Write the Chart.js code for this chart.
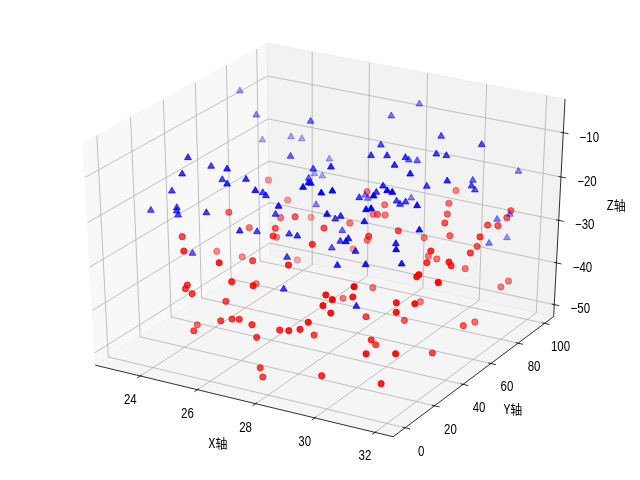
<!DOCTYPE html>
<html>
<head>
<meta charset="utf-8">
<style>
  html, body { margin: 0; background: #fff; }
  canvas { display: block; }
</style>
<script src="https://cdn.jsdelivr.net/npm/chart.js@4"></script>
</head>
<body>
<canvas id="scatter-3d" width="640" height="480"></canvas>
<script>
var xTicks = [24, 26, 28, 30, 32];
var yTicks = [0, 20, 40, 60, 80, 100];
var zTicks = [-50, -40, -30, -20, -10];

var redX = [24.20,24.83,29.57,25.58,26.46,25.28,28.11,27.85,28.48,28.19,27.42,26.25,27.66,29.66,26.69,25.21,29.12,28.05,28.01,27.01,25.29,28.05,30.66,28.72,27.29,24.57,24.82,24.22,25.05,23.87,
  26.41,24.58,26.27,26.76,25.53,27.45,25.24,25.16,25.35,25.98,24.79,25.46,26.27,26.66,26.85,27.38,27.48,28.28,28.70,29.09,27.73,27.82,31.02,29.61,30.11,28.03,30.19,29.77,30.07,29.80,
  31.32,31.97,30.01,31.50,30.44,29.36,28.68,31.99,31.86,30.47,30.29,31.14,31.87,31.87,29.73,31.65,29.89,30.27,30.55,31.78,31.94,31.72,31.85,29.43,30.51,31.97,31.61,32.00,31.25,29.76,
  30.09,31.10,31.95,31.82,30.88,31.82,31.68,31.94,32.00,31.87];
var redY = [73.0,73.9,96.3,54.9,47.8,81.1,76.0,73.3,63.5,74.8,65.8,38.8,43.7,53.9,29.1,59.1,44.7,65.3,29.2,76.4,71.4,13.0,4.4,56.0,80.2,40.2,48.5,16.9,3.1,44.5,
  0.2,47.9,23.6,1.3,39.3,1.9,1.2,1.4,2.0,11.5,14.5,0.4,2.8,2.8,3.8,2.0,3.0,2.7,0.6,0.3,0.3,0.2,54.2,6.9,1.3,49.3,13.0,1.9,1.1,29.7,
  19.1,18.1,63.1,15.4,43.0,0.4,17.2,52.1,63.3,19.9,26.6,3.0,7.8,33.1,1.8,2.9,84.5,75.4,67.8,88.8,82.4,73.3,78.0,77.0,72.5,62.5,68.6,55.3,43.5,73.4,
  72.5,44.1,41.4,45.8,76.4,23.6,25.1,34.5,84.2,81.6];
var redZ = [-25,-29,-25,-28,-25,-34,-26,-28,-25,-28,-29,-26,-25,-25,-25,-34,-25,-32,-25,-38,-42,-26,-25,-40,-25,-25,-30,-26,-25,-36,
  -25,-37,-30,-29,-40,-29,-32,-33,-34,-37,-45,-42,-39,-38,-38,-38,-41,-38,-37,-36,-47,-49,-35,-29,-28,-42,-30,-30,-31,-39,
  -31,-30,-43,-32,-42,-34,-42,-43,-45,-41,-44,-39,-39,-45,-46,-45,-25,-25,-25,-25,-25,-25,-26,-32,-29,-25,-29,-27,-25,-35,
  -35,-28,-26,-28,-37,-25,-26,-29,-40,-41];

var blueX = [23.43,24.54,24.21,25.11,25.45,26.55,25.06,25.90,26.86,26.59,27.55,24.74,26.60,28.42,25.01,25.18,26.62,29.17,29.54,29.94,26.21,29.01,30.50,27.72,25.89,26.19,27.24,29.09,28.80,29.14,
  29.99,29.80,30.49,31.30,31.48,29.86,31.17,29.47,30.35,28.29,28.09,28.63,30.51,31.85,31.09,31.40,30.47,29.57,29.81,31.94,31.22,31.87,31.46,31.05,31.98,31.88,29.39,30.61,31.89,30.56,
  28.37,27.05,27.51,29.86,29.56,29.00,30.98,31.24,30.52,28.58,28.09,28.55,30.25,29.29,30.48,31.43,31.99,28.82,30.22,28.24,30.13,31.13,28.51,24.05,24.98,24.92,24.93,25.92,27.11,27.20,
  25.36,27.45,27.06,30.94,31.91,31.89,31.96,31.90,32.00,31.98];
var blueY = [69.6,59.4,69.2,6.3,14.0,3.8,3.4,12.5,9.5,2.9,2.4,2.6,55.6,73.4,73.1,77.0,42.1,51.3,37.3,39.8,75.6,21.9,33.4,35.6,71.7,71.2,41.9,6.2,13.2,1.8,
  3.6,0.4,26.2,12.4,12.0,34.6,6.3,31.2,38.2,60.6,62.8,88.4,64.5,64.1,49.1,49.4,41.2,62.2,63.0,89.6,29.0,40.4,67.2,43.9,55.0,59.7,68.1,38.9,20.0,36.2,
  1.2,50.4,15.4,2.8,17.4,24.9,5.4,3.4,13.6,37.8,12.9,9.3,8.7,22.5,2.6,15.9,4.6,26.2,14.0,8.6,4.1,2.4,1.2,1.6,1.0,1.9,2.5,2.0,0.5,9.5,
  2.8,10.7,16.0,0.4,75.9,85.7,69.5,84.0,19.5,8.6];
var blueZ = [-5,-7,-15,-5,-8,-5,-8,-10,-8,-8,-8,-12,-5,-5,-14,-15,-10,-6,-5,-5,-18,-5,-5,-10,-21,-21,-14,-5,-7,-5,
  -5,-5,-8,-5,-5,-12,-5,-13,-14,-21,-21,-5,-5,-5,-5,-5,-5,-11,-11,-16,-5,-8,-14,-11,-12,-14,-21,-14,-9,-14,
  -10,-22,-16,-10,-14,-17,-8,-7,-13,-23,-19,-18,-16,-21,-15,-17,-15,-24,-20,-23,-21,-19,-28,-17,-15,-16,-17,-15,-17,-19,
  -25,-11,-12,-28,-24,-25,-28,-30,-14,-19];

var xLim = [22.4, 32.6];
var yLim = [-8, 107];
var zLim = [-52.9, -2.5];

// camera: elevation 30, azimuth -60, distance 10
var DIST = 10;
var elev = (30 * Math.PI) / 180;
var azim = (-60 * Math.PI) / 180;
var viewDir = [Math.cos(elev) * Math.cos(azim), Math.cos(elev) * Math.sin(azim), Math.sin(elev)];
var viewRight = [-Math.sin(azim), Math.cos(azim), 0];
var viewUp = [
  viewDir[1] * viewRight[2] - viewDir[2] * viewRight[1],
  viewDir[2] * viewRight[0] - viewDir[0] * viewRight[2],
  viewDir[0] * viewRight[1] - viewDir[1] * viewRight[0],
];

function dot(a, b) {
  return a[0] * b[0] + a[1] * b[1] + a[2] * b[2];
}
function toCube(p) {
  return [
    (p[0] - xLim[0]) / (xLim[1] - xLim[0]) - 0.5,
    (p[1] - yLim[0]) / (yLim[1] - yLim[0]) - 0.5,
    (p[2] - zLim[0]) / (zLim[1] - zLim[0]) - 0.5,
  ];
}
function project(p) {
  let q = toCube(p);
  let w = DIST - dot(q, viewDir);
  return { x: dot(q, viewRight) / w, y: dot(q, viewUp) / w };
}

// polyline through 3d points
function path3d(points, color, width) {
  return {
    data: points.map(project),
    showLine: true,
    pointRadius: 0,
    borderColor: color,
    borderWidth: width,
    fill: false,
  };
}
function pane(points, color) {
  let ds = path3d(points.concat([points[0]]), color, 1);
  ds.fill = "shape";
  ds.backgroundColor = color;
  return ds;
}
// nearer points are more opaque, 0.3 at the far end
function depthColors(points, rgb) {
  let depths = points.map((p) => dot(toCube(p), viewDir));
  let lo = Math.min(...depths);
  let hi = Math.max(...depths);
  return depths.map((d) => `rgba(${rgb},${(0.3 + (0.7 * (d - lo)) / (hi - lo)).toFixed(3)})`);
}
function scatter3d(xs, ys, zs, rgb, style, radius) {
  let points = xs.map((x, i) => [x, ys[i], zs[i]]);
  let colors = depthColors(points, rgb);
  return {
    data: points.map(project),
    showLine: false,
    pointStyle: style,
    pointRadius: radius,
    pointBackgroundColor: colors,
    pointBorderColor: colors,
    pointBorderWidth: 1,
  };
}

var x0 = xLim[0], x1 = xLim[1], y0 = yLim[0], y1 = yLim[1], z0 = zLim[0], z1 = zLim[1];
var gridColor = "rgb(176,176,176)";
var tickX = (x1 - x0) / 12;
var tickY = (y1 - y0) / 12;
var datasets = [];

datasets.push(pane([[x0, y0, z0], [x0, y1, z0], [x0, y1, z1], [x0, y0, z1]], "rgba(242,242,242,0.5)"));
datasets.push(pane([[x0, y1, z0], [x1, y1, z0], [x1, y1, z1], [x0, y1, z1]], "rgba(230,230,230,0.5)"));
datasets.push(pane([[x0, y0, z0], [x1, y0, z0], [x1, y1, z0], [x0, y1, z0]], "rgba(236,236,236,0.5)"));

xTicks.forEach((t) => datasets.push(path3d([[t, y0, z0], [t, y1, z0], [t, y1, z1]], gridColor, 0.8)));
yTicks.forEach((t) => datasets.push(path3d([[x1, t, z0], [x0, t, z0], [x0, t, z1]], gridColor, 0.8)));
zTicks.forEach((t) => datasets.push(path3d([[x0, y0, t], [x0, y1, t], [x1, y1, t]], gridColor, 0.8)));

datasets.push(path3d([[x0, y0, z0], [x1, y0, z0]], "#000", 0.8));
datasets.push(path3d([[x1, y0, z0], [x1, y1, z0]], "#000", 0.8));
datasets.push(path3d([[x1, y1, z0], [x1, y1, z1]], "#000", 0.8));

xTicks.forEach((t) => datasets.push(path3d([[t, y0 + 0.1 * tickY, z0], [t, y0 - 0.2 * tickY, z0]], "#000", 0.8)));
yTicks.forEach((t) => datasets.push(path3d([[x1 - 0.1 * tickX, t, z0], [x1 + 0.2 * tickX, t, z0]], "#000", 0.8)));
zTicks.forEach((t) => datasets.push(path3d([[x1 - 0.1 * tickX, y1, t], [x1 + 0.2 * tickX, y1, t]], "#000", 0.8)));

datasets.push(scatter3d(redX, redY, redZ, "255,0,0", "circle", 3.1));
datasets.push(scatter3d(blueX, blueY, blueZ, "0,0,255", "triangle", 3.9));

// tick labels and axis titles, placed from the same projection
var axisText = {
  id: "axisText",
  afterDraw(chart) {
    let ctx = chart.ctx;
    let sx = chart.scales.x;
    let sy = chart.scales.y;
    function put(text, x, y, squeeze) {
      ctx.save();
      ctx.translate(x, y);
      ctx.scale(squeeze, 1);
      ctx.fillText(text, 0, 0);
      ctx.restore();
    }
    function tickLabel(text, p, dx, dy) {
      let q = project(p);
      put(text, sx.getPixelForValue(q.x) + dx, sy.getPixelForValue(q.y) + dy, 0.82);
    }
    ctx.save();
    ctx.fillStyle = "#000";
    ctx.textAlign = "center";
    ctx.textBaseline = "middle";
    ctx.font = '14px "Liberation Sans"';
    xTicks.forEach((t) => tickLabel(String(t), [t, y0, z0], -10, 24));
    yTicks.forEach((t) => tickLabel(String(t), [x1, t, z0], 16, 24));
    zTicks.forEach((t) => tickLabel("\u2212" + Math.abs(t), [x1, y1, t], 26, 5));
    ctx.font = '13px "Noto Sans CJK SC"';
    put("X轴", 218, 443, 0.92);
    put("Y轴", 513, 409, 0.92);
    put("Z轴", 616, 205, 0.92);
    ctx.restore();
  },
};

// later entries paint first in Chart.js, so reverse to get panes at the bottom
new Chart(document.getElementById("scatter-3d"), {
  type: "scatter",
  data: { datasets: datasets.reverse() },
  plugins: [axisText],
  options: {
    responsive: false,
    animation: false,
    events: [],
    layout: { padding: 0, autoPadding: false },
    plugins: { legend: { display: false }, tooltip: { enabled: false } },
    scales: {
      x: { display: false, min: -328 / 3439, max: 312 / 3439 },
      y: { display: false, min: -246.7 / 2537, max: 233.3 / 2537 },
    },
  },
});
</script>
</body>
</html>
